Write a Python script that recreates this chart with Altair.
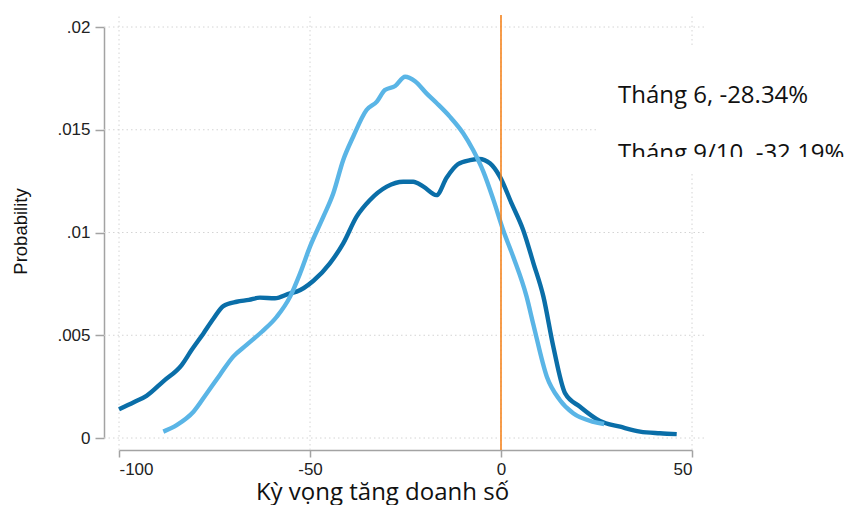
import altair as alt
import pandas as pd

# ---- data ----
dark_x = [-100, -96, -92.8, -88.4, -83.6, -81.0, -77.9, -75.3, -72.7, -69.2, -66, -63.1, -59.2,
          -55.2, -53.5, -49.1, -44.8, -41.3, -37.8, -34.3, -29.9, -25.6, -23.0, -20.3, -16.9,
          -14.2, -11.3, -8.1, -5.7, -2.9, -0.3, 2.8, 5.8, 8.5, 11.1, 13.7, 16.8, 20.7, 25.9,
          31.2, 36.4, 41.6, 46.0]
dark_y = [0.00140, 0.00175, 0.00205, 0.00276, 0.00355, 0.00428, 0.00509, 0.00580, 0.00642,
          0.00663, 0.00672, 0.00683, 0.00680, 0.00704, 0.00712, 0.00765, 0.00850, 0.00947,
          0.01077, 0.01158, 0.01223, 0.01247, 0.01247, 0.01223, 0.01182, 0.01268, 0.01332,
          0.01352, 0.01358, 0.01337, 0.01272, 0.01140, 0.01012, 0.00850, 0.00688, 0.00444,
          0.00217, 0.00152, 0.00083, 0.00055, 0.00031, 0.00023, 0.00019]

light_x = [-88.4, -84.9, -80.5, -77.0, -73.6, -70.1, -66.6, -62.6, -58.7, -55.2, -52.6, -50.0,
           -46.5, -43.9, -41.3, -38.7, -35.2, -32.5, -30.4, -27.7, -25.1, -22.5, -19.5, -16.8,
           -13.4, -9.9, -7.3, -4.6, -2.0, 0.6, 3.2, 6.7, 8.5, 12.0, 15.4, 18.9, 24.2, 27.0]
light_y = [0.00031, 0.00063, 0.00128, 0.00218, 0.00307, 0.00396, 0.00453, 0.00517, 0.00590,
           0.00688, 0.00801, 0.00931, 0.01077, 0.01191, 0.01353, 0.01466, 0.01596, 0.01637,
           0.01693, 0.01713, 0.01758, 0.01736, 0.01677, 0.01629, 0.01564, 0.01483, 0.01401,
           0.01295, 0.01160, 0.01010, 0.00882, 0.00688, 0.00550, 0.00298, 0.00185, 0.00120,
           0.00079, 0.00068]

x_ticks = [-100, -50, 0, 50]
y_ticks = [0, 0.005, 0.01, 0.015, 0.02]
labels = ["Tháng 6, -28.34%", "Tháng 9/10, -32.19%"]
x_title = "Kỳ vọng tăng doanh số"
y_title = "Probability"
ref_line_x = [0]

# ---- geometry / style ----
W, H = 573, 411
X_DOM = [-100, 50]
Y_DOM = [0, 0.02]
X_PAD = 15 / (W / 150)      # plot region extends 15px beyond the x ticks
Y_PAD = 12 / (H / 0.02)     # and 12px beyond the y ticks

DARK = "#0a6ea8"
LIGHT = "#5ab5e6"
ORANGE = "#f5841f"
AXIS_GRAY = "#a3a3a3"
GRID_GRAY = "#d4d4d4"

xscale = alt.Scale(domain=X_DOM, nice=False, zero=False)
yscale = alt.Scale(domain=Y_DOM, nice=False, zero=False)

xaxis = alt.Axis(values=x_ticks, labelExpr="toString(datum.value)", grid=False,
                 domainColor=AXIS_GRAY, domainWidth=1.5, tickColor=AXIS_GRAY, tickWidth=1.5,
                 tickSize=7, labelFont="Liberation Sans", labelFontSize=17, labelColor="#222222",
                 labelPadding=4, offset=12, title=x_title, titleFont="Open Sans",
                 titleFontSize=24, titleFontWeight="normal", titleColor="#111111",
                 titleX=263, titleY=49, titleAlign="center", titleBaseline="alphabetic")
yaxis = alt.Axis(values=y_ticks,
                 labelExpr="datum.value == 0 ? '0' : slice(toString(datum.value), 1)",
                 grid=False, domainColor=AXIS_GRAY, domainWidth=1.5, tickColor=AXIS_GRAY,
                 tickWidth=1.5, tickSize=9, labelFont="Liberation Sans", labelFontSize=17,
                 labelColor="#222222", labelPadding=5, offset=15, title=y_title,
                 titleFont="Liberation Sans", titleFontSize=18.5, titleFontWeight="normal",
                 titleColor="#111111", titleAngle=270, titleX=-78, titleY=204,
                 titleAlign="center", titleBaseline="alphabetic")


def X(f, **kw):
    return alt.X(f, type="quantitative", scale=xscale, axis=xaxis, **kw)


def Y(f, **kw):
    return alt.Y(f, type="quantitative", scale=yscale, axis=yaxis, **kw)


dark_df = pd.DataFrame({"x": dark_x, "y": dark_y})
light_df = pd.DataFrame({"x": light_x, "y": light_y})
hgrid_df = pd.DataFrame({"y": y_ticks, "x0": X_DOM[0] - X_PAD, "x1": X_DOM[1] + X_PAD})
vgrid_df = pd.DataFrame({"x": x_ticks, "y0": Y_DOM[0] - Y_PAD, "y1": Y_DOM[1] + Y_PAD})
ref_df = pd.DataFrame({"x": ref_line_x, "y0": Y_DOM[0] - Y_PAD, "y1": Y_DOM[1] + Y_PAD})

hgrid = alt.Chart(hgrid_df).mark_rule(color=GRID_GRAY, strokeWidth=1, strokeDash=[1.5, 3]).encode(
    y=Y("y"), x=X("x0"), x2="x1")
vgrid = alt.Chart(vgrid_df).mark_rule(color=GRID_GRAY, strokeWidth=1, strokeDash=[1.5, 3]).encode(
    x=X("x"), y=Y("y0"), y2="y1")

# white text box of the annotation (hides the gridlines behind it)
box = alt.Chart(pd.DataFrame({"a": [0]})).mark_rect(color="white").encode(
    x=alt.value(478), x2=alt.value(745), y=alt.value(20), y2=alt.value(145))

dark = alt.Chart(dark_df).mark_line(color=DARK, strokeWidth=4.4, interpolate="monotone").encode(
    x=X("x"), y=Y("y"))
light = alt.Chart(light_df).mark_line(color=LIGHT, strokeWidth=4.4, interpolate="monotone").encode(
    x=X("x"), y=Y("y"))

ref = alt.Chart(ref_df).mark_rule(color=ORANGE, strokeWidth=1.6).encode(
    x=X("x"), y=Y("y0"), y2="y1")

txt_style = dict(font="Open Sans", fontSize=24, color="#111111", align="left",
                 baseline="alphabetic")
t1 = alt.Chart(pd.DataFrame({"t": [labels[0]]})).mark_text(**txt_style).encode(
    text="t:N", x=alt.value(499), y=alt.value(76))
t2 = alt.Chart(pd.DataFrame({"t": [labels[1]]})).mark_text(**txt_style).encode(
    text="t:N", x=alt.value(499), y=alt.value(133.5))
# the second label is cut off at the bottom of its text box
clip = alt.Chart(pd.DataFrame({"a": [0]})).mark_rect(color="white").encode(
    x=alt.value(478), x2=alt.value(745), y=alt.value(130), y2=alt.value(146))

chart = alt.layer(hgrid, vgrid, box, dark, light, ref, t1, t2, clip).properties(
    width=W, height=H,
    autosize=alt.AutoSizeParams(type="none"),
    padding={"left": 111, "top": 19, "right": 153, "bottom": 67},
).configure_view(strokeWidth=0)

chart.save("out.html", embed_options={"renderer": "svg", "actions": False})
